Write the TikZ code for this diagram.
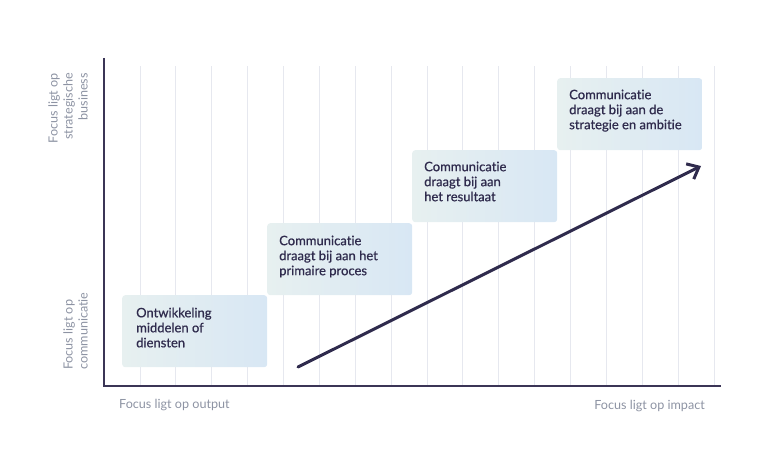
\documentclass[tikz,border=0pt]{standalone}
\usepackage{fontspec}
\setmainfont{Lato}[RawFeature={-liga;-dlig}]
\newfontfamily\boxfont{Lato}[FakeBold=0.7,RawFeature={-liga;-dlig}]
\usetikzlibrary{arrows.meta}
\definecolor{navy}{RGB}{47,43,77}
\definecolor{axiscol}{RGB}{59,53,86}
\definecolor{gridcol}{RGB}{230,232,239}
\definecolor{labelgray}{RGB}{141,147,163}
\definecolor{boxleft}{RGB}{231,240,240}
\definecolor{boxright}{RGB}{216,231,244}
\tikzset{
  gridline/.style={draw=gridcol, line width=1pt},
  axisline/.style={draw=axiscol, line width=2.5pt},
  stepbox/.style={shade, left color=boxleft, right color=boxright, rounded corners=3pt,
    minimum width=145pt, minimum height=72pt, inner sep=0pt, anchor=north west},
  boxtext/.style={font=\boxfont\fontsize{13}{15}\selectfont, text=navy, align=left,
    inner sep=0pt, anchor=north west},
  axislabel/.style={font=\fontsize{12.6}{15}\selectfont, text=labelgray, inner sep=0pt},
  trend/.style={draw=navy, line width=3pt, line cap=round,
    -{Straight Barb[length=10pt,width=17pt,line width=3pt]}}
}
\begin{document}
\begin{tikzpicture}[x=1pt,y=-1pt]
\useasboundingbox (0,0) rectangle (770,460);
% grid
\foreach \i in {0,...,16} {
  \draw[gridline] ({140+35.875*\i},66) -- ({140+35.875*\i},385);
}
% axes
\coordinate (Ytop) at (104,58);
\coordinate (O) at (104,386);
\coordinate (Xend) at (721,386);
\draw[axisline] (Ytop) -- (O) -- (Xend);
% boxes
\node[stepbox] (b1) at (122,295) {};
\node[stepbox] (b2) at (267,223) {};
\node[stepbox] (b3) at (412,150) {};
\node[stepbox] (b4) at (557,78) {};
\node[boxtext] (t1) at ([xshift=14pt,yshift=-12.5pt]b1.north west) {Ontwikkeling\\middelen of\\diensten};
\node[boxtext] (t2) at ([xshift=12pt,yshift=-12.5pt]b2.north west) {Communicatie\\draagt bij aan het\\primaire proces};
\node[boxtext] (t3) at ([xshift=12pt,yshift=-11.5pt]b3.north west) {Communicatie\\draagt bij aan\\het resultaat};
\node[boxtext] (t4) at ([xshift=12pt,yshift=-11.5pt]b4.north west) {Communicatie\\draagt bij aan de\\strategie en ambitie};
% trend arrow
\coordinate (a0) at (298,367);
\coordinate (a1) at (701,166);
\draw[trend] (a0) -- (a1);
% axis labels
\node[axislabel, anchor=base west] (lx1) at (119,408) {Focus ligt op output};
\node[axislabel, anchor=base east] (lx2) at (705,409) {Focus ligt op impact};
\node[axislabel, rotate=90, align=right, anchor=south east] (ly2) at (88,73) {Focus ligt op\\strategische\\business};
\node[axislabel, rotate=90, align=left, anchor=south west] (ly1) at (88,370) {Focus ligt op\\communicatie};
\end{tikzpicture}
\end{document}
